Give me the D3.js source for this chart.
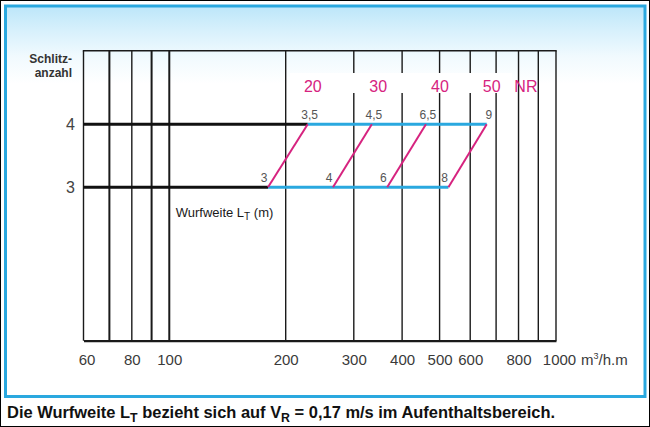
<!DOCTYPE html>
<html><head><meta charset="utf-8">
<script src="https://cdn.jsdelivr.net/npm/d3@7"></script>
<style>html,body{margin:0;padding:0;background:#fff;} svg{display:block;font-family:"Liberation Sans",Arial,sans-serif;}</style>
</head><body><svg id="c" width="650" height="427"></svg>
<script>
// ---- data ----
const xTickValues = [60, 80, 100, 200, 300, 400, 500, 600, 800, 1000];
const gridValues = [60, 70, 80, 90, 100, 200, 300, 400, 500, 600, 700, 800, 900, 1000];
const slotCounts = [3, 4];
const nrLabels = ["20", "30", "40", "50", "NR"];
const nrLabelFlow = [235, 347, 501, 682, 836];
const flowAt3Slots = [180, 265, 366, 527];
const flowAt4Slots = [228, 334, 461, 662];
const throwAt3Slots = ["3", "4", "6", "8"];
const throwAt4Slots = ["3,5", "4,5", "6,5", "9"];

// ---- drawing ----
const svg = d3.select("#c");
const blue = "#2aa8df", magenta = "#d6237f";
const frameTop = 50.7, frameBottom = 340.7;
const x = d3.scaleLog().domain([60, 1000]).range([83.5, 556]);
const y = d3.scaleLinear().domain([3, 4]).range([187.3, 124.3]);

const defs = svg.append("defs");
const grad = defs.append("linearGradient").attr("id", "bg").attr("x1", 0).attr("y1", 0).attr("x2", 0).attr("y2", 1);
[[0, "#bce6f9"], [0.06, "#d6f0fc"], [0.13, "#f1fafe"], [0.2, "#ffffff"], [1, "#ffffff"]]
  .forEach(([o, c]) => grad.append("stop").attr("offset", o).attr("stop-color", c));

svg.append("rect").attr("x", 0.5).attr("y", 0.5).attr("width", 649).attr("height", 426)
  .attr("fill", "#fff").attr("stroke", "#000").attr("stroke-width", 1);
svg.append("rect").attr("x", 5.5).attr("y", 6).attr("width", 639.5).attr("height", 390.5)
  .attr("fill", "url(#bg)").attr("stroke", blue).attr("stroke-width", 3);

// grid lines
const thick = new Set([70, 90, 100]);
svg.append("g").selectAll("line").data(gridValues).join("line")
  .attr("x1", d => x(d)).attr("x2", d => x(d))
  .attr("y1", frameTop).attr("y2", frameBottom)
  .attr("stroke", "#1a1a1a").attr("stroke-width", d => thick.has(d) ? 2 : 1.4);
svg.append("line").attr("x1", x(60) - 0.7).attr("x2", x(1000) + 0.7)
  .attr("y1", frameTop).attr("y2", frameTop).attr("stroke", "#1a1a1a").attr("stroke-width", 1.4);

// white band behind NR labels
svg.append("rect").attr("x", 290).attr("y", 73).attr("width", 222).attr("height", 20).attr("fill", "#fff");

// x axis
const xAxis = d3.axisBottom(x).tickValues(xTickValues).tickFormat(d3.format("d"))
  .tickSize(0).tickSizeOuter(0).tickPadding(13.6);
const gx = svg.append("g").attr("transform", `translate(0,${frameBottom})`).call(xAxis);
gx.select(".domain").attr("stroke", "#1a1a1a").attr("stroke-width", 2.2);
gx.selectAll(".tick text").attr("font-size", 15).attr("fill", "#3a3a3a")
  .attr("font-family", "Liberation Sans, Arial, sans-serif")
  .attr("dx", d => d === 60 ? 3 : d === 1000 ? 3 : 0);
const unit = svg.append("text").attr("x", x(1000) + 25).attr("y", 365).attr("font-size", 15).attr("fill", "#3a3a3a");
unit.append("tspan").text("m");
unit.append("tspan").attr("font-size", 9).attr("dy", -6).text("3");
unit.append("tspan").attr("dy", 6).text("/h.m");

// y labels
svg.append("g").selectAll("text").data(slotCounts).join("text")
  .attr("x", 75).attr("y", d => y(d) + 5.7).attr("text-anchor", "end")
  .attr("font-size", 16).attr("fill", "#444").text(d => d);
svg.append("text").attr("x", 72).attr("y", 63.3).attr("text-anchor", "end")
  .attr("font-size", 12).attr("font-weight", "bold").attr("fill", "#333").text("Schlitz-");
svg.append("text").attr("x", 72).attr("y", 77.3).attr("text-anchor", "end")
  .attr("font-size", 12).attr("font-weight", "bold").attr("fill", "#333").text("anzahl");

// black lead-in lines
const starts = [flowAt3Slots[0], flowAt4Slots[0]];
svg.append("g").selectAll("line").data(slotCounts).join("line")
  .attr("x1", x(60)).attr("x2", (d, i) => x(starts[i]))
  .attr("y1", d => y(d)).attr("y2", d => y(d))
  .attr("stroke", "#111").attr("stroke-width", 3);
// blue lines
const rows = [flowAt3Slots, flowAt4Slots];
svg.append("g").selectAll("line").data(slotCounts).join("line")
  .attr("x1", (d, i) => x(rows[i][0])).attr("x2", (d, i) => x(rows[i][rows[i].length - 1]))
  .attr("y1", d => y(d)).attr("y2", d => y(d))
  .attr("stroke", blue).attr("stroke-width", 3);
// magenta diagonals
svg.append("g").selectAll("line").data(flowAt3Slots).join("line")
  .attr("x1", d => x(d)).attr("y1", y(3))
  .attr("x2", (d, i) => x(flowAt4Slots[i])).attr("y2", y(4))
  .attr("stroke", magenta).attr("stroke-width", 2);

// throw labels
svg.append("g").selectAll("text").data(throwAt3Slots).join("text")
  .attr("x", (d, i) => x(flowAt3Slots[i]) - 0.5).attr("y", y(3) - 5.6)
  .attr("text-anchor", "end").attr("font-size", 12).attr("fill", "#555").text(d => d);
svg.append("g").selectAll("text").data(throwAt4Slots).join("text")
  .attr("x", (d, i) => x(flowAt4Slots[i]) + 2).attr("y", y(4) - 5.3)
  .attr("text-anchor", "middle").attr("font-size", 12).attr("fill", "#555").text(d => d);

// NR labels
svg.append("g").selectAll("text").data(nrLabels).join("text")
  .attr("x", (d, i) => x(nrLabelFlow[i])).attr("y", y(4) - 32.6)
  .attr("text-anchor", "middle").attr("font-size", 16).attr("fill", magenta).text(d => d);

// Wurfweite label
const wl = svg.append("text").attr("x", 175.7).attr("y", 216.7).attr("font-size", 13).attr("fill", "#1a1a1a");
wl.append("tspan").text("Wurfweite L");
wl.append("tspan").attr("font-size", 10).attr("dy", 3).text("T");
wl.append("tspan").attr("dy", -3).text(" (m)");

// caption
const cap = svg.append("text").attr("x", 7).attr("y", 418).attr("font-size", 16)
  .attr("font-weight", "bold").attr("fill", "#111")
  .attr("textLength", 548).attr("lengthAdjust", "spacingAndGlyphs");
cap.append("tspan").text("Die Wurfweite L");
cap.append("tspan").attr("font-size", 12).attr("dy", 3.5).text("T");
cap.append("tspan").attr("dy", -3.5).text(" bezieht sich auf V");
cap.append("tspan").attr("font-size", 12).attr("dy", 3.5).text("R");
cap.append("tspan").attr("dy", -3.5).text(" = 0,17 m/s im Aufenthaltsbereich.");
</script></body></html>
